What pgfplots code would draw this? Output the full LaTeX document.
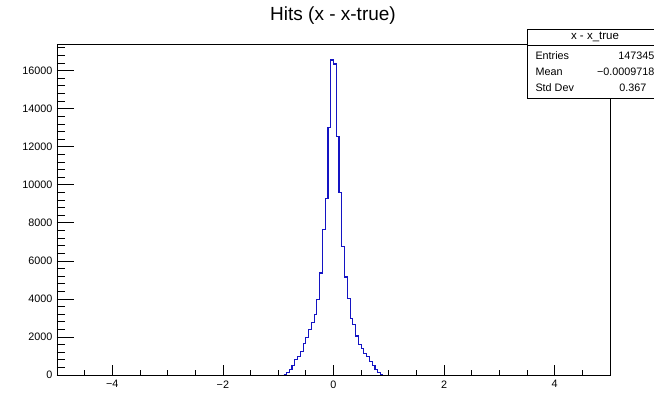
\documentclass[border=0pt]{standalone}
\usepackage{pgfplots}
\pgfplotsset{compat=1.18}
\usepackage{fontspec}
\setmainfont{Liberation Sans}
\definecolor{histblue}{RGB}{20,20,195}
\pgfplotstableread{
x y
-0.90 0
-0.85 130
-0.80 290
-0.75 480
-0.70 820
-0.65 980
-0.60 1230
-0.55 1670
-0.50 1960
-0.45 2370
-0.40 2740
-0.35 3200
-0.30 3950
-0.25 5360
-0.20 7640
-0.15 9260
-0.10 13020
-0.05 16560
0.00 16350
0.05 12540
0.10 9610
0.15 6760
0.20 5150
0.25 4000
0.30 2990
0.35 2650
0.40 2050
0.45 1600
0.50 1400
0.55 1150
0.60 950
0.65 720
0.70 480
0.75 280
0.80 120
0.85 0
0.90 0
}\histdata
\pgfplotsset{rootframe/.style={
  at={(57pt,18pt)}, anchor=south west,
  scale only axis, width=553pt, height=331pt,
  xmin=-5, xmax=5, ymin=0, ymax=17400,
  axis line style={line width=0.7pt},
  tick align=inside, tick pos=left,
  scaled y ticks=false, scaled x ticks=false,
  tick style={line width=0.7pt, black},
}}
\begin{document}
\begin{tikzpicture}[x=1pt,y=1pt]
\useasboundingbox (0,0) rectangle (654,393);
\clip (0,0) rectangle (654,393);
\begin{axis}[rootframe,
  major tick length=10pt, minor tick length=5pt,
  xtick={-4,-2,0,2,4}, xticklabels={−4,−2,0,2,4},
  minor xtick={-5,-4.5,...,5},
  ytick={0,2000,4000,6000,8000,10000,12000,14000,16000},
  yticklabels={0,2000,4000,6000,8000,10000,12000,14000,16000},
  ytick style={draw=none},
  tick label style={font=\fontsize{10.8}{12}\selectfont},
  xticklabel style={yshift=-2pt},
  yticklabel style={xshift=-1pt},
]
\addplot[const plot mark left, histblue, line width=1.1pt] table {\histdata};
\end{axis}
\begin{axis}[rootframe,
  major tick length=16.5pt, minor tick length=8pt,
  xtick=\empty,
  ytick={0,2000,4000,6000,8000,10000,12000,14000,16000},
  yticklabels={},
  minor ytick={0,400,...,17200},
]
\end{axis}
\node[font=\fontsize{19}{21}\selectfont] at (333,377) {Hits (x - x-true)};
\draw[fill=white, line width=0.7pt] (527,295) rectangle (663,364);
\draw[line width=1.4pt] (527,294.5) -- (663,294.5);
\draw[line width=0.7pt] (527,347.3) -- (663,347.3);
\node[font=\fontsize{11.5}{12}\selectfont] at (595,356) {x - x\_true};
\node[font=\fontsize{10.8}{12}\selectfont, anchor=west] at (532,337) {Entries};
\node[font=\fontsize{10.8}{12}\selectfont, anchor=west] at (532,321) {Mean};
\node[font=\fontsize{10.8}{12}\selectfont, anchor=west] at (532,305) {Std Dev};
\node[font=\fontsize{10.8}{12}\selectfont, anchor=east] at (658,337) {147345};
\node[font=\fontsize{10.8}{12}\selectfont, anchor=east] at (658,321) {−0.0009718};
\node[font=\fontsize{10.8}{12}\selectfont, anchor=east] at (650,305) {0.367};
\end{tikzpicture}
\end{document}
